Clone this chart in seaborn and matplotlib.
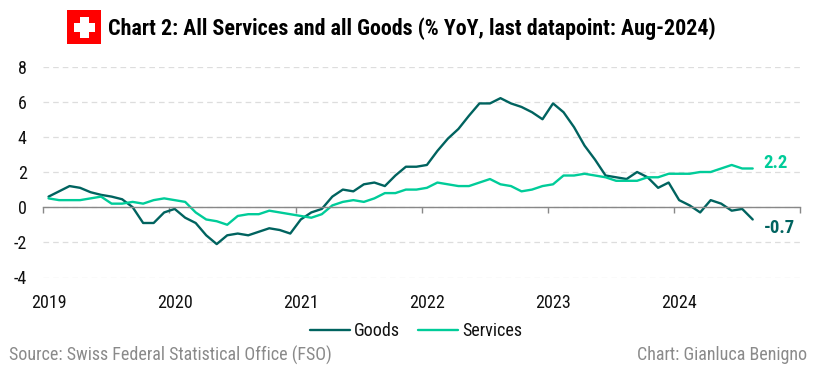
import numpy as np
import pandas as pd
import seaborn as sns
import matplotlib.pyplot as plt
from matplotlib.patches import Rectangle
from matplotlib import font_manager as fm
from fontTools.ttLib import TTFont
from fontTools.varLib import instancer

goods = [0.6, 0.9, 1.2, 1.1, 0.85, 0.7, 0.6, 0.45, 0.0, -0.9, -0.9, -0.3,
         -0.1, -0.6, -0.9, -1.6, -2.1, -1.6, -1.5, -1.6, -1.4, -1.2, -1.3, -1.5,
         -0.7, -0.3, -0.1, 0.6, 1.0, 0.9, 1.3, 1.4, 1.2, 1.8, 2.3, 2.3,
         2.4, 3.2, 3.9, 4.45, 5.2, 5.9, 5.9, 6.2, 5.9, 5.7, 5.4, 5.0,
         5.9, 5.4, 4.55, 3.5, 2.7, 1.8, 1.7, 1.6, 2.0, 1.7, 1.1, 1.4,
         0.4, 0.1, -0.3, 0.4, 0.2, -0.2, -0.1, -0.7]
services = [0.5, 0.4, 0.4, 0.4, 0.5, 0.6, 0.2, 0.2, 0.3, 0.2, 0.4, 0.5,
            0.4, 0.3, -0.3, -0.7, -0.8, -1.0, -0.5, -0.4, -0.4, -0.2, -0.3, -0.4,
            -0.5, -0.6, -0.4, 0.1, 0.3, 0.4, 0.3, 0.5, 0.8, 0.8, 1.0, 1.0,
            1.1, 1.4, 1.3, 1.2, 1.2, 1.4, 1.6, 1.3, 1.2, 0.9, 1.0, 1.2,
            1.3, 1.8, 1.8, 1.9, 1.8, 1.7, 1.5, 1.5, 1.5, 1.7, 1.7, 1.9,
            1.9, 1.9, 2.0, 2.0, 2.2, 2.4, 2.2, 2.2]
years = ['2019', '2020', '2021', '2022', '2023', '2024']
yticks = [-4, -2, 0, 2, 4, 6, 8]
dark = '#00635f'
light = '#00cc99'

sns.set_theme(style='white')


def condensed(weight):
    # reference uses Roboto Condensed: cut it from the variable Roboto if that is there
    for f in fm.fontManager.ttflist:
        if f.fname.endswith('Roboto[wdth,wght].ttf'):
            inst = instancer.instantiateVariableFont(TTFont(f.fname), {'wdth': 75, 'wght': weight})
            name = f'roboto_cond_{weight}.ttf'
            inst.save(name)
            return fm.FontProperties(fname=name)
    return fm.FontProperties(family='Roboto', weight=weight)


reg = condensed(400)
bold = condensed(700)


def fp(base, size):
    p = base.copy()
    p.set_size(size)
    return p


W, H = 822, 370
fig = plt.figure(figsize=(W / 100, H / 100), dpi=100)
ax = fig.add_axes([43.3 / W, 1 - 277.5 / H, (800 - 43.3) / W, 211 / H])

months = np.arange(len(goods))
df = pd.DataFrame({'month': np.r_[months, months],
                   'value': goods + services,
                   'series': ['Goods'] * len(goods) + ['Services'] * len(services)})
sns.lineplot(data=df, x='month', y='value', hue='series',
             palette={'Goods': dark, 'Services': light}, lw=1.7, ax=ax)

ax.set_xlim(-0.5, 71.5)
ax.set_ylim(-4, 8)
ax.set_xlabel('')
ax.set_ylabel('')
ax.set_yticks(yticks)
ax.set_yticklabels([str(t) for t in yticks], fontproperties=fp(reg, 13), color='#111111')
ax.tick_params(axis='y', length=0, pad=12)
ax.yaxis.grid(True, color='#dddddd', lw=0.9, ls=(0, (4.5, 3.2)))
ax.set_axisbelow(True)

for s in ['top', 'left', 'right']:
    ax.spines[s].set_visible(False)
ax.spines['bottom'].set_position(('data', 0))
ax.spines['bottom'].set_color('#888888')
ax.spines['bottom'].set_linewidth(1.0)
ax.set_xticks(np.arange(-0.5, 72, 12))
ax.tick_params(axis='x', length=4, width=1.0, color='#888888', labelbottom=False, bottom=True)

sec = ax.secondary_xaxis('bottom')
sec.set_xticks(np.arange(0, 72, 12)[:len(years)])
sec.set_xticklabels(years, fontproperties=fp(reg, 13), color='#111111')
sec.tick_params(length=0, pad=12)
sec.spines['bottom'].set_visible(False)

ax.annotate(f'{services[-1]:.1f}', (months[-1], services[-1]), xytext=(8, 4),
            textcoords='offset points', va='center', color=light, fontproperties=fp(bold, 13.5))
ax.annotate(f'{goods[-1]:.1f}', (months[-1], goods[-1]), xytext=(8, -6),
            textcoords='offset points', va='center', color=dark, fontproperties=fp(bold, 13.5))

leg = ax.legend(loc='lower left', bbox_to_anchor=(310 / W, 1 - 340 / H), bbox_transform=fig.transFigure,
                ncol=2, frameon=False, prop=fp(reg, 13), handlelength=2.2, handletextpad=0.25,
                columnspacing=1.0, borderpad=0, borderaxespad=0)
for t in leg.get_texts():
    t.set_color('#111111')

# flag
fig.add_artist(Rectangle((67 / W, 1 - 44 / H), 34 / W, 34 / H, transform=fig.transFigure, color='#ff0000', lw=0))
fig.add_artist(Rectangle((79.5 / W, 1 - 37.5 / H), 9 / W, 21 / H, transform=fig.transFigure, color='white', lw=0))
fig.add_artist(Rectangle((73.5 / W, 1 - 31.5 / H), 21 / W, 9 / H, transform=fig.transFigure, color='white', lw=0))

fig.text(108 / W, 1 - 29 / H, 'Chart 2: All Services and all Goods (% YoY, last datapoint: Aug-2024)',
         fontproperties=fp(bold, 15.8), color='#000000', va='center', ha='left')
fig.text(9 / W, 1 - 355 / H, 'Source: Swiss Federal Statistical Office (FSO)',
         fontproperties=fp(reg, 13), color='#8a8a8a', va='center', ha='left')
fig.text(807 / W, 1 - 355 / H, 'Chart: Gianluca Benigno',
         fontproperties=fp(reg, 13), color='#8a8a8a', va='center', ha='right')

fig.savefig('out.png', dpi=100)
